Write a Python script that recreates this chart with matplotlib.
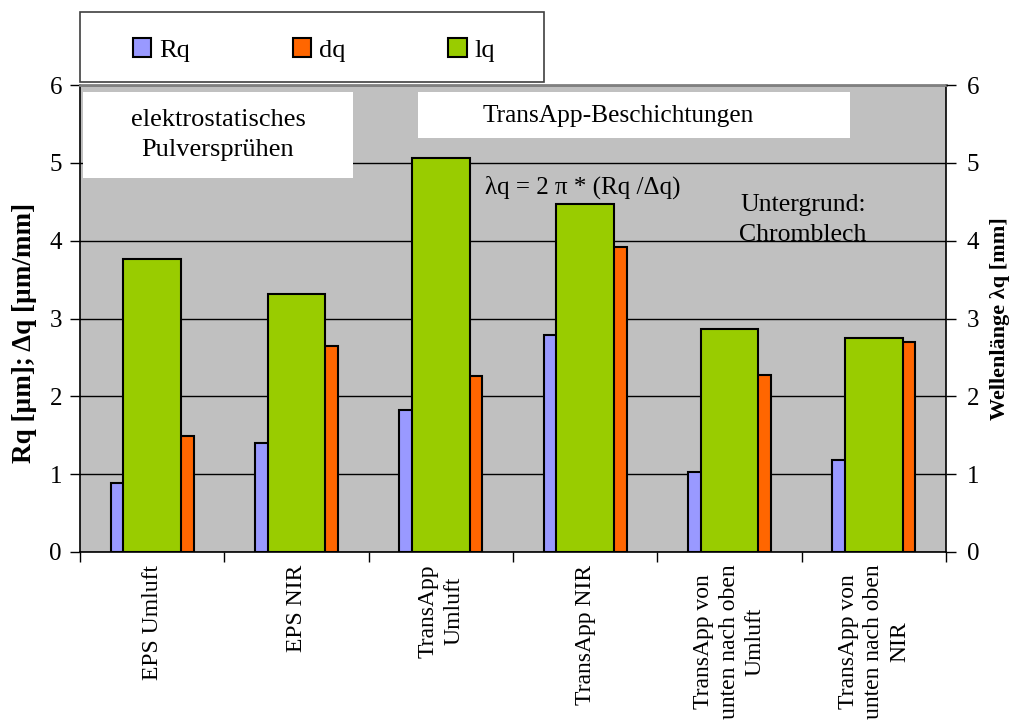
import matplotlib.pyplot as plt
import numpy as np
from matplotlib.patches import Rectangle, Patch

plt.rcParams['font.family'] = ['Liberation Serif', 'DejaVu Serif']

categories = ['EPS Umluft', 'EPS NIR', 'TransApp\nUmluft', 'TransApp NIR',
              'TransApp von\nunten nach oben\nUmluft',
              'TransApp von\nunten nach oben\nNIR']
rq = [0.89, 1.40, 1.83, 2.79, 1.03, 1.18]
dq = [1.49, 2.65, 2.26, 3.92, 2.28, 2.70]
lq = [3.77, 3.32, 5.06, 4.47, 2.87, 2.75]

c_rq = '#9999FF'
c_dq = '#FF6600'
c_lq = '#99CC00'

fig = plt.figure(figsize=(10.14, 7.2), dpi=100)
W, H = 1014, 720
ax = fig.add_axes([80 / W, 1 - 552 / H, 866 / W, 467 / H])
ax.set_facecolor('#C0C0C0')

x = np.arange(len(categories))
w = 0.288
ax.bar(x - w / 2, rq, w, color=c_rq, edgecolor='black', linewidth=1.5, zorder=2)
ax.bar(x + w / 2, dq, w, color=c_dq, edgecolor='black', linewidth=1.5, zorder=2)

ax.set_xlim(-0.5, len(categories) - 0.5)
ax.set_ylim(0, 6)
ax.set_yticks(range(7))
ax.yaxis.grid(True, color='black', linewidth=1.0)
ax.set_axisbelow(True)

ax.set_xticks(x)
ax.set_xticklabels(categories, rotation=90, fontsize=17, va='top',
                   ha='center', multialignment='center', linespacing=1.3)
ax.set_xticks(np.arange(-0.5, len(categories)), minor=True)
ax.tick_params(axis='x', which='major', length=0, pad=9)
ax.tick_params(axis='x', which='minor', length=7, width=1, direction='out')
ax.tick_params(axis='y', length=7, width=1, direction='out', labelsize=18, pad=6)
ax.set_ylabel('Rq [µm]; Δq [µm/mm]', fontsize=19.5, fontweight='bold')
ax.yaxis.set_label_coords(-0.050, 0.47)

for s in ['left', 'right', 'bottom']:
    ax.spines[s].set_color('black')
    ax.spines[s].set_linewidth(1.2)
ax.spines['top'].set_color('#808080')
ax.spines['top'].set_linewidth(2.0)

# lq sits on the secondary axis, drawn wider and on top
ax2 = ax.twinx()
ax2.bar(x, lq, 0.40, color=c_lq, edgecolor='black', linewidth=1.5, zorder=3)
ax2.set_ylim(0, 6)
ax2.set_yticks(range(7))
ax2.tick_params(axis='y', length=7, width=1, direction='out', labelsize=18, pad=8)
ax2.set_ylabel('Wellenlänge λq [mm]', fontsize=16, fontweight='bold', labelpad=8)
for s in ax2.spines.values():
    s.set_visible(False)

# annotation boxes
tr = ax.transAxes
ax2.add_patch(Rectangle((0.0035, 0.801), 0.312, 0.184, transform=tr,
                        facecolor='white', edgecolor='none', zorder=4))
ax2.add_patch(Rectangle((0.390, 0.886), 0.499, 0.099, transform=tr,
                        facecolor='white', edgecolor='none', zorder=4))
ax2.text((218 - 80) / 866, (552 - 135) / 467, 'elektrostatisches\nPulversprühen',
         transform=tr, ha='center', va='center', fontsize=19, linespacing=1.5,
         zorder=5)
ax2.text((618 - 80) / 866, (552 - 116) / 467, 'TransApp-Beschichtungen',
         transform=tr, ha='center', va='center', fontsize=18.3, zorder=5)
ax2.text((485 - 80) / 866, (552 - 187) / 467, 'λq = 2 π * (Rq /Δq)',
         transform=tr, ha='left', va='center', fontsize=18, zorder=5)
ax.text((803 - 80) / 866, (552 - 220) / 467, 'Untergrund:\nChromblech',
        transform=tr, ha='center', va='center', fontsize=18.5, linespacing=1.5,
        zorder=0.4)

# legend frame above the plot
fig.patches.append(Rectangle((80 / W, 1 - 82 / H), 464 / W, 70 / H,
                             transform=fig.transFigure, facecolor='white',
                             edgecolor='#404040', linewidth=1.2))
handles = [Patch(facecolor=c_rq, edgecolor='black', linewidth=1.5),
           Patch(facecolor=c_dq, edgecolor='black', linewidth=1.5),
           Patch(facecolor=c_lq, edgecolor='black', linewidth=1.5)]
fig.legend(handles, ['Rq', 'dq', 'lq'], loc='center',
           bbox_to_anchor=(314 / W, 1 - 50 / H), ncol=3, frameon=False,
           fontsize=19, handlelength=0.7, handleheight=0.7, handletextpad=0.3,
           columnspacing=3.9)

fig.savefig('out.png', dpi=100)
